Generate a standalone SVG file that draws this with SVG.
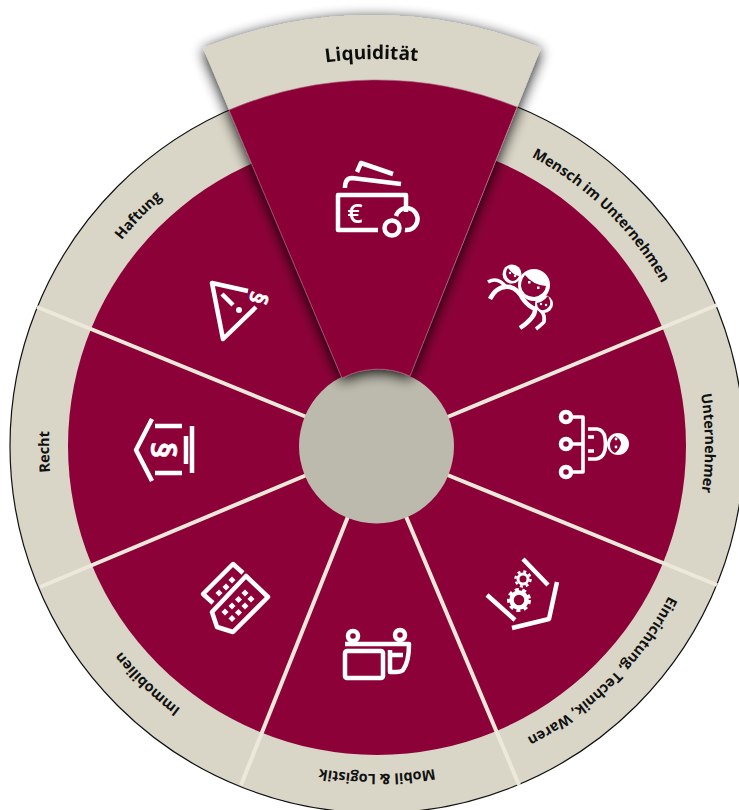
<svg xmlns="http://www.w3.org/2000/svg" width="739" height="810" viewBox="0 0 739 810">
<style>
.ln{fill:none;stroke:#fff;stroke-width:4.500;stroke-linecap:butt;stroke-linejoin:round}
.th{stroke-width:3.600}
.fw{fill:#fff}
.rd{fill:#8c0238}
.lb{font-family:"Open Sans","Noto Sans",sans-serif;font-weight:700;font-size:14.500px;fill:#111;text-anchor:middle}
.sep{stroke:#ece9db;stroke-width:4;fill:none}
.gl{font-family:"Open Sans",sans-serif;font-weight:700;fill:#fff;stroke:#fff;stroke-width:0.500;text-anchor:middle}
</style>
<defs>
<path id="arc" d="M49,446 A328,328 0 0 1 705,446"/>
<path id="arcTop" d="M-10,446 A387,387 0 0 1 764,446"/>
<filter id="sh" x="-30%" y="-20%" width="160%" height="140%">
<feGaussianBlur in="SourceAlpha" stdDeviation="7"/>
<feOffset dy="3"/>
<feComponentTransfer><feFuncA type="linear" slope="0.95"/></feComponentTransfer>
<feMerge><feMergeNode/><feMergeNode in="SourceGraphic"/></feMerge>
</filter>
</defs>
<rect width="739" height="810" fill="#fff"/>
<g id="wheel">
<circle cx="377" cy="446" r="367" fill="#d9d6c7" stroke="#111" stroke-width="1.200"/>
<circle cx="377" cy="446" r="309" fill="#8c0238"/>
</g>
<g id="connectors">
<path class="sep" d="M445,418 L717,305"/>
<path class="sep" d="M445,474 L717,585"/>
<path class="sep" d="M405,514 L519,785"/>
<path class="sep" d="M349,514 L241,785"/>
<path class="sep" d="M309,474 L40,587"/>
<path class="sep" d="M309,418 L37,307"/>
</g>
<g id="hub"><circle cx="376.500" cy="446" r="77.500" fill="#bcbaac"/></g>

<g id="mensch">
<text class="lb" transform="rotate(44.200 377 446)"><textPath href="#arc" startOffset="50%">Mensch im Unternehmen</textPath></text>
<path class="ln" d="M490,299 Q497,285 510,287 Q518,289 523,299 Q528,306 535,309 Q536,317 520,328"/>
<path class="ln th" d="M488,282 Q498,276 507,288"/>
<path class="ln th" d="M535,306 Q546,312 544,322 Q541,325 536,329"/>
<circle class="fw" cx="534" cy="285" r="16"/>
<path class="rd" d="M525,275 Q533,285 546,286 Q545,295 534,297 Q522,296 521,286 Q521,280 525,275Z"/>
<rect class="fw" x="528" y="281" width="2.500" height="2.500"/>
<rect class="fw" x="537" y="286.500" width="2.500" height="2.500"/>
<circle class="fw" cx="512" cy="274" r="9.500"/>
<path class="rd" d="M508,268 Q513,275 519,276 Q517,281 512,281 Q506,279 506,273 Q506,270 508,268Z"/>
<circle class="fw" cx="510" cy="273" r="1.200"/><circle class="fw" cx="515" cy="276" r="1.200"/>
<circle class="fw" cx="544" cy="304" r="9"/>
<path class="rd" d="M537,303 Q543,302 548,296 Q551,301 550,305 Q547,311 541,310 Q537,308 537,303Z"/>
<circle class="fw" cx="541" cy="304" r="1.200"/><circle class="fw" cx="546" cy="305" r="1.200"/>
</g>

<g id="unternehmer">
<text class="lb" transform="rotate(89.500 377 446)"><textPath href="#arc" startOffset="50%">Unternehmer</textPath></text>
<circle class="ln" cx="566" cy="417" r="5"/><circle class="ln" cx="566" cy="444" r="5"/><circle class="ln" cx="566" cy="472" r="5"/>
<path class="ln th" d="M571,417 H583 V472 H571 M571,444 H583"/>
<path class="ln th" d="M588,429 H597 Q604,430 605,438 Q606,444 605,450 Q603,458 596,459 H588 M588,437 H594 M588,451 H594"/>
<circle class="fw" cx="618" cy="444" r="11"/>
<path class="rd" d="M615,436 Q610,440 610,445 Q610,451 615,453 Q620,449 621,444 Q621,439 615,436Z"/>
<circle class="fw" cx="616" cy="439" r="1.400"/><circle class="fw" cx="616" cy="447" r="1.400"/>
</g>

<g id="einrichtung">
<text class="lb" transform="rotate(135 377 446)"><textPath href="#arc" startOffset="50%">Einrichtung, Technik, Waren</textPath></text>
<path class="ln" d="M523,559 L548,585 M487,595 L515,620 M557,582 L549,619 L512,628"/>
<circle cx="519" cy="600" r="7.500" fill="none" stroke="#fff" stroke-width="4.500"/>
<circle cx="519" cy="600" r="10.500" fill="none" stroke="#fff" stroke-width="3" stroke-dasharray="4 3.500"/>
<circle cx="523" cy="579" r="5" fill="none" stroke="#fff" stroke-width="3"/>
<circle cx="523" cy="579" r="7.500" fill="none" stroke="#fff" stroke-width="2.500" stroke-dasharray="3 2.900"/>
</g>

<g id="mobil">
<text class="lb" transform="rotate(180 377 446)"><textPath href="#arc" startOffset="50%">Mobil &amp; Logistik</textPath></text>
<circle class="ln" cx="353" cy="636" r="5"/><circle class="ln" cx="400" cy="635" r="5"/>
<path class="ln" d="M345,644 H409 Q409,662 403,670 Q401,672 396,672 H390 V650 M392,655 H403"/>
<rect class="ln" x="345" y="651" width="38" height="27" rx="2"/>
</g>

<g id="immobilien">
<text class="lb" transform="rotate(224 377 446)"><textPath href="#arc" startOffset="50%">Immobilien</textPath></text>
<path class="ln" d="M243,573 L233,564 L203,594 L213,603"/>
<path class="ln" d="M246,576 L268,597 L233,632 L217,627 L212,612 Z"/>
<g class="fw">
<rect x="216.500" y="590.500" width="5" height="5" transform="rotate(45 219 593)"/>
<rect x="223.500" y="584.500" width="5" height="5" transform="rotate(45 226 587)"/>
<rect x="229.500" y="577.500" width="5" height="5" transform="rotate(45 232 580)"/>
<rect x="222.500" y="609.500" width="5" height="5" transform="rotate(45 225 612)"/>
<rect x="229.500" y="603.500" width="5" height="5" transform="rotate(45 232 606)"/>
<rect x="236" y="597" width="5" height="5" transform="rotate(45 238.500 599.500)"/>
<rect x="242.500" y="590.500" width="5" height="5" transform="rotate(45 245 593)"/>
<rect x="229.500" y="616" width="5" height="5" transform="rotate(45 232 618.500)"/>
<rect x="236" y="610" width="5" height="5" transform="rotate(45 238.500 612.500)"/>
<rect x="242.500" y="603.500" width="5" height="5" transform="rotate(45 245 606)"/>
<rect x="248.500" y="596.500" width="5" height="5" transform="rotate(45 251 599)"/>
</g>
</g>

<g id="recht">
<text class="lb" transform="rotate(269 377 446)"><textPath href="#arc" startOffset="50%">Recht</textPath></text>
<path class="ln" d="M152,419 L136,450 L152,481 M155,426 H182 M155,473 H182 M186,436 V464 M192,426 V473"/>
<text class="gl" font-size="34" transform="translate(163 450) rotate(90)" y="12">§</text>
</g>

<g id="haftung">
<text class="lb" transform="rotate(314 377 446)"><textPath href="#arc" startOffset="50%">Haftung</textPath></text>
<path class="ln" d="M248,291 L212,283 L223,339 L256,307 M222,294 L233,305"/>
<circle class="fw" cx="239" cy="310" r="3"/>
<text class="gl" font-size="24" transform="translate(258 298) rotate(105)" y="8">§</text>
</g>

<g id="liquiditaet" filter="url(#sh)">
<path fill="#d9d6c7" d="M203,48 A449,449 0 0 1 541,48 L410,376 A77.500,77.500 0 0 0 342,378 Z"/>
<path fill="#8c0238" stroke="#a9577a" stroke-width="0.600" d="M229,110 A378,378 0 0 1 517,107 L410,376 A77.500,77.500 0 0 0 342,378 Z"/>
<text class="lb" style="font-size:19px" transform="rotate(-0.800 377 446)"><textPath href="#arcTop" startOffset="50%">Liquidität</textPath></text>
<path class="ln" d="M378,230 H338 V195 H406 V212"/>
<path class="ln" d="M396,216 A11,11 0 1 1 405,230"/>
<circle class="ln" cx="392" cy="228" r="7.500"/>
<path class="ln" d="M345,188 Q345,178 352,178 L401,184"/>
<path class="ln" d="M357,172 L361,163 L393,174"/>
<text x="355" y="223" font-size="27" font-family="Open Sans,sans-serif" font-weight="600" fill="#fff" text-anchor="middle">€</text>
</g>
</svg>
